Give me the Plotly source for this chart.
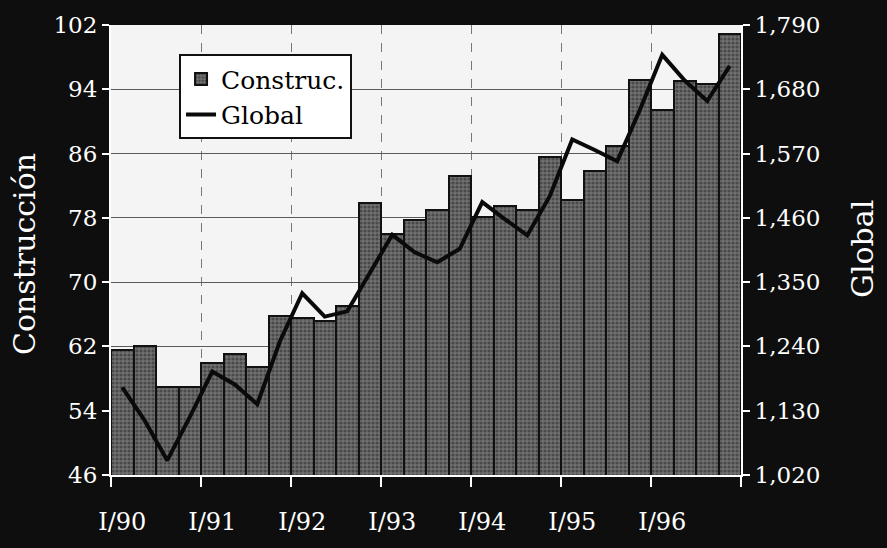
import plotly.graph_objects as go

quarters = [f"{q}/{y}" for y in range(90, 97) for q in ["I", "II", "III", "IV"]]
construc = [61.5, 62.1, 56.9, 56.9, 59.9, 61.1, 59.5, 65.8, 65.5, 65.2, 67.0, 79.9,
            76.0, 77.7, 79.0, 83.2, 78.1, 79.5, 79.0, 85.6, 80.2, 83.8, 86.9, 95.1,
            91.4, 95.0, 94.6, 100.9]
global_vals = [1170, 1113, 1045, 1119, 1197, 1175, 1141, 1248, 1331, 1291, 1300, 1367,
               1431, 1401, 1384, 1407, 1487, 1458, 1430, 1497, 1594, 1576, 1557, 1644,
               1739, 1695, 1660, 1720]
year_labels = ["I/90", "I/91", "I/92", "I/93", "I/94", "I/95", "I/96"]

xpos = list(range(len(quarters)))
label_pos = [i for i, q in enumerate(quarters) if q.startswith("I/")]
boundaries = [p - 0.5 for p in label_pos] + [len(quarters) - 0.5]

FONT = "DejaVu Serif"
ML, MR, MT, MB = 111, 146, 21, 73
W, H = 887, 548

fig = go.Figure()
fig.add_trace(go.Bar(
    x=xpos, y=construc, name="Construc.", width=1.0,
    marker=dict(color="#555555", line=dict(color="#111111", width=2),
                pattern=dict(shape=".", fgcolor="#222222", bgcolor="#707070",
                             size=4, solidity=0.5)),
    hovertext=quarters,
))
fig.add_trace(go.Scatter(
    x=xpos, y=global_vals, name="Global", yaxis="y2", mode="lines",
    line=dict(color="#0a0a0a", width=4), hovertext=quarters,
))

pw, ph = W - ML - MR, H - MT - MB


def px_to_paper(x, y):
    return (x - ML) / pw, (H - MB - y) / ph


ax1, ay1 = px_to_paper(25, 252)
ax2, ay2 = px_to_paper(862, 247)

fig.update_layout(
    width=W, height=H,
    paper_bgcolor="#0e0e0e", plot_bgcolor="#f4f4f4",
    margin=dict(l=ML, r=MR, t=MT, b=MB),
    bargap=0, showlegend=True,
    font=dict(family=FONT, color="white", size=23),
    legend=dict(x=0.108, y=0.935, xanchor="left", yanchor="top",
                bgcolor="white", bordercolor="#111111", borderwidth=2,
                font=dict(family=FONT, color="black", size=25),
                tracegroupgap=0, itemwidth=30),
    xaxis=dict(range=[-0.5, 27.5], tickvals=label_pos, ticktext=year_labels,
               ticks="", showgrid=False, zeroline=False, ticklabelstandoff=24,
               showline=True, linecolor="white", linewidth=2,
               tickfont=dict(family=FONT, color="white", size=24),
               minor=dict(tickvals=boundaries, ticks="outside", ticklen=10,
                          tickcolor="white", tickwidth=2, showgrid=True,
                          gridcolor="#777777", griddash="dash", gridwidth=1)),
    yaxis=dict(range=[46, 102], tick0=46, dtick=8, ticks="outside", ticklen=7,
               tickcolor="white", tickwidth=2, showline=True, linecolor="white",
               linewidth=2, showgrid=True, gridcolor="#5a5a5a", gridwidth=1,
               zeroline=False, tickfont=dict(family=FONT, color="white", size=23)),
    yaxis2=dict(range=[1020, 1790], tick0=1020, dtick=110, overlaying="y",
                side="right", ticks="outside", ticklen=7, tickcolor="white",
                tickwidth=2, showline=True, linecolor="white", linewidth=2,
                showgrid=False, zeroline=False, tickformat=",",
                tickfont=dict(family=FONT, color="white", size=23)),
    annotations=[
        dict(text="Construcción", x=ax1, y=ay1, xref="paper", yref="paper",
             xanchor="center", yanchor="middle",
             showarrow=False, textangle=-90, font=dict(family=FONT, size=30, color="white")),
        dict(text="Global", x=ax2, y=ay2, xref="paper", yref="paper",
             xanchor="center", yanchor="middle",
             showarrow=False, textangle=-90, font=dict(family=FONT, size=30, color="white")),
    ],
)

fig.write_html("out.html", config={"displayModeBar": False},
               post_script="document.body.style.margin='0';document.body.style.background='#0e0e0e';")
